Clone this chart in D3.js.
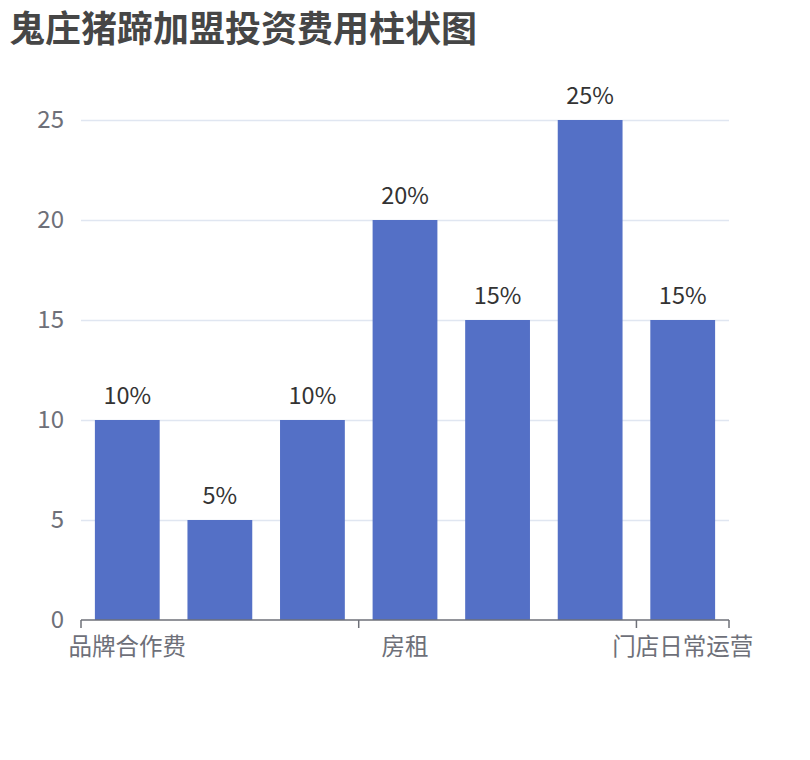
<!DOCTYPE html>
<html>
<head>
<meta charset="utf-8">
<script src="https://cdn.jsdelivr.net/npm/d3@7"></script>
<style>
  body { margin: 0; background: #fff; }
  svg { display: block; font-family: "Noto Sans CJK SC", "Noto Sans", sans-serif; }
</style>
</head>
<body>
<svg width="810" height="760"></svg>
<script>
const title = "鬼庄猪蹄加盟投资费用柱状图";
const categories = ["品牌合作费", "装修费用", "设备采购", "房租", "人员工资", "原材料", "门店日常运营"];
const values = [10, 5, 10, 20, 15, 25, 15];
const yTicks = [0, 5, 10, 15, 20, 25];
const shownLabels = [0, 3, 6];

const svg = d3.select("svg");
const margin = {left: 81, right: 81, top: 120, bottom: 140};
const width = +svg.attr("width");
const height = +svg.attr("height");

svg.append("text")
  .attr("x", 9)
  .attr("y", 42)
  .attr("font-size", 36)
  .attr("font-weight", "bold")
  .attr("fill", "#464646")
  .text(title);

const x = d3.scaleBand()
  .domain(d3.range(categories.length))
  .range([margin.left, width - margin.right])
  .paddingInner(0.3)
  .paddingOuter(0.15);

const xStep = x.step();

const y = d3.scaleLinear()
  .domain([0, 25])
  .range([height - margin.bottom, margin.top]);

// grid
svg.append("g")
  .selectAll("line")
  .data(yTicks.slice(1))
  .join("line")
  .attr("x1", margin.left)
  .attr("x2", width - margin.right)
  .attr("y1", d => y(d) + 0.5)
  .attr("y2", d => y(d) + 0.5)
  .attr("stroke", "#E0E6F1")
  .attr("stroke-width", 1.5);

// y labels
svg.append("g")
  .selectAll("text")
  .data(yTicks)
  .join("text")
  .attr("x", margin.left - 17)
  .attr("y", d => y(d))
  .attr("dy", "0.35em")
  .attr("text-anchor", "end")
  .attr("font-size", 24)
  .attr("fill", "#6E7079")
  .text(d => d);

// bars
svg.append("g")
  .selectAll("rect")
  .data(values)
  .join("rect")
  .attr("x", (d, i) => x(i))
  .attr("y", d => y(d))
  .attr("width", x.bandwidth())
  .attr("height", d => y(0) - y(d))
  .attr("fill", "#5470C6");

// value labels
svg.append("g")
  .selectAll("text")
  .data(values)
  .join("text")
  .attr("x", (d, i) => x(i) + x.bandwidth() / 2)
  .attr("y", d => y(d) - 16)
  .attr("text-anchor", "middle")
  .attr("font-size", 23.5)
  .attr("fill", "#333")
  .text(d => d + "%");

// x axis
const axisY = y(0);
const xa = svg.append("g");
xa.append("line")
  .attr("x1", margin.left)
  .attr("x2", width - margin.right)
  .attr("y1", axisY)
  .attr("y2", axisY)
  .attr("stroke", "#6E7079")
  .attr("stroke-width", 1.5);

const tickPos = shownLabels.map(i => margin.left + i * xStep).concat([width - margin.right]);
xa.selectAll("line.tick")
  .data(tickPos)
  .join("line")
  .attr("class", "tick")
  .attr("x1", d => d)
  .attr("x2", d => d)
  .attr("y1", axisY)
  .attr("y2", axisY + 8)
  .attr("stroke", "#6E7079")
  .attr("stroke-width", 1.5);

xa.selectAll("text")
  .data(shownLabels)
  .join("text")
  .attr("x", i => margin.left + (i + 0.5) * xStep)
  .attr("y", axisY + 35)
  .attr("text-anchor", "middle")
  .attr("font-size", 23.5)
  .attr("fill", "#6E7079")
  .text(i => categories[i]);
</script>
</body>
</html>
